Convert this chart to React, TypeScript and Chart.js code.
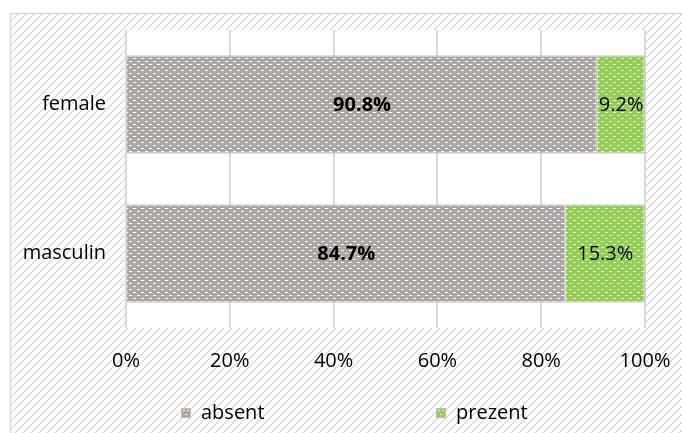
import React, { useEffect, useRef } from "react";
import { Chart, registerables } from "chart.js";

Chart.register(...registerables);

const categories = ["female", "masculin"];
const absentValues = [90.8, 84.7];
const prezentValues = [9.2, 15.3];
const seriesNames = ["absent", "prezent"];
const xTicks = [0, 20, 40, 60, 80, 100];

const FONT = "'Open Sans', 'Liberation Sans', sans-serif";
const GRAY = "#aba7a5";
const GREEN = "#92d050";

function makeDotPattern(base: string): CanvasPattern | string {
  const c = document.createElement("canvas");
  c.width = 8;
  c.height = 6;
  const g = c.getContext("2d");
  if (!g) return base;
  g.fillStyle = base;
  g.fillRect(0, 0, 8, 6);
  g.fillStyle = "#ffffff";
  g.fillRect(1, 1, 3, 1);
  g.fillRect(5, 4, 3, 1);
  const p = g.createPattern(c, "repeat");
  return p || base;
}

function makeHatch(ctx: CanvasRenderingContext2D): CanvasPattern | string {
  const c = document.createElement("canvas");
  c.width = 8;
  c.height = 8;
  const g = c.getContext("2d");
  if (!g) return "#fff";
  g.fillStyle = "#ffffff";
  g.fillRect(0, 0, 8, 8);
  g.fillStyle = "#dedede";
  g.fillRect(0, 6, 2, 2);
  g.fillRect(2, 4, 2, 2);
  g.fillRect(4, 2, 2, 2);
  g.fillRect(6, 0, 2, 2);
  return ctx.createPattern(c, "repeat") || "#fff";
}

export default function App() {
  const ref = useRef<HTMLCanvasElement | null>(null);

  useEffect(() => {
    const canvas = ref.current;
    if (!canvas) return;
    const grayPat = makeDotPattern(GRAY);
    const greenPat = makeDotPattern(GREEN);
    const colors = [grayPat, greenPat];
    const solid = [GRAY, GREEN];

    const bgPlugin = {
      id: "bgPlugin",
      beforeDraw(chart: any) {
        const ctx = chart.ctx as CanvasRenderingContext2D;
        const { width, height, chartArea } = chart;
        ctx.save();
        ctx.fillStyle = "#ffffff";
        ctx.fillRect(0, 0, width, height);
        ctx.fillStyle = makeHatch(ctx);
        ctx.fillRect(10, 13, width - 10, height - 13);
        ctx.strokeStyle = "#d9d9d9";
        ctx.lineWidth = 1.5;
        ctx.strokeRect(10.5, 13.5, width + 10, height + 10);
        ctx.fillStyle = "#ffffff";
        ctx.fillRect(chartArea.left, chartArea.top, chartArea.right - chartArea.left, chartArea.bottom - chartArea.top);
        ctx.restore();
      },
    };

    const labelPlugin = {
      id: "labelPlugin",
      afterDatasetsDraw(chart: any) {
        const ctx = chart.ctx as CanvasRenderingContext2D;
        ctx.save();
        ctx.textAlign = "center";
        ctx.textBaseline = "middle";
        ctx.fillStyle = "#000000";
        chart.data.datasets.forEach((ds: any, di: number) => {
          const meta = chart.getDatasetMeta(di);
          meta.data.forEach((bar: any, i: number) => {
            const v = ds.data[i];
            const { x, y, base } = bar.getProps(["x", "y", "base"], true);
            ctx.font = (di === 0 ? "bold " : "") + "20px " + FONT;
            ctx.fillText(v.toFixed(1) + "%", (x + base) / 2, y + 1);
          });
        });
        ctx.restore();
      },
    };

    const legendPlugin = {
      id: "legendPlugin",
      afterDraw(chart: any) {
        const ctx = chart.ctx as CanvasRenderingContext2D;
        const positions = [181, 436];
        ctx.save();
        ctx.font = "20px " + FONT;
        ctx.textBaseline = "middle";
        ctx.textAlign = "left";
        seriesNames.forEach((name, i) => {
          const bx = positions[i];
          const by = 408;
          ctx.fillStyle = solid[i];
          ctx.fillRect(bx, by, 10, 10);
          ctx.fillStyle = "#ffffff";
          ctx.fillRect(bx + 2, by + 2, 2, 1);
          ctx.fillRect(bx + 6, by + 2, 2, 1);
          ctx.fillRect(bx + 4, by + 6, 2, 1);
          ctx.strokeStyle = "#bfbfbf";
          ctx.lineWidth = 1;
          ctx.strokeRect(bx + 0.5, by + 0.5, 9, 9);
          ctx.fillStyle = "#000000";
          ctx.fillText(name, bx + 20, by + 5);
        });
        ctx.restore();
      },
    };

    const chart = new Chart(canvas, {
      type: "bar",
      data: {
        labels: categories,
        datasets: [
          {
            label: seriesNames[0],
            data: absentValues,
            backgroundColor: colors[0] as any,
            borderColor: "#c8c8c8",
            borderWidth: 1.5,
            barPercentage: 0.66,
            categoryPercentage: 1,
          },
          {
            label: seriesNames[1],
            data: prezentValues,
            backgroundColor: colors[1] as any,
            borderColor: "#c8c8c8",
            borderWidth: 1.5,
            barPercentage: 0.66,
            categoryPercentage: 1,
          },
        ],
      },
      options: {
        indexAxis: "y",
        responsive: false,
        animation: false,
        layout: { padding: { left: 0, top: 30, right: 37, bottom: 0 } },
        plugins: {
          legend: { display: false },
          tooltip: { enabled: false },
        },
        scales: {
          x: {
            stacked: true,
            min: 0,
            max: 100,
            afterBuildTicks: (s: any) => {
              s.ticks = xTicks.map((v) => ({ value: v }));
            },
            afterFit: (s: any) => {
              s.height = 105;
              s.paddingLeft = 0;
              s.paddingRight = 0;
            },
            grid: { color: "#d9d9d9", lineWidth: 2, drawTicks: false },
            border: { display: false },
            ticks: {
              padding: 21,
              color: "#000000",
              font: { family: FONT, size: 20 },
              callback: (v: any) => v + "%",
            },
          },
          y: {
            stacked: true,
            afterFit: (s: any) => {
              s.width = 126;
              s.paddingTop = 0;
              s.paddingBottom = 0;
            },
            grid: { display: false, drawTicks: false },
            border: { display: false },
            ticks: {
              padding: 20,
              color: "#000000",
              font: { family: FONT, size: 20 },
            },
          },
        },
      },
      plugins: [bgPlugin, labelPlugin, legendPlugin],
    } as any);

    return () => chart.destroy();
  }, []);

  return (
    <div style={{ position: "absolute", left: 0, top: 0, width: 682, height: 433 }}>
      <canvas ref={ref} width={682} height={433} style={{ width: 682, height: 433, display: "block" }} />
    </div>
  );
}
